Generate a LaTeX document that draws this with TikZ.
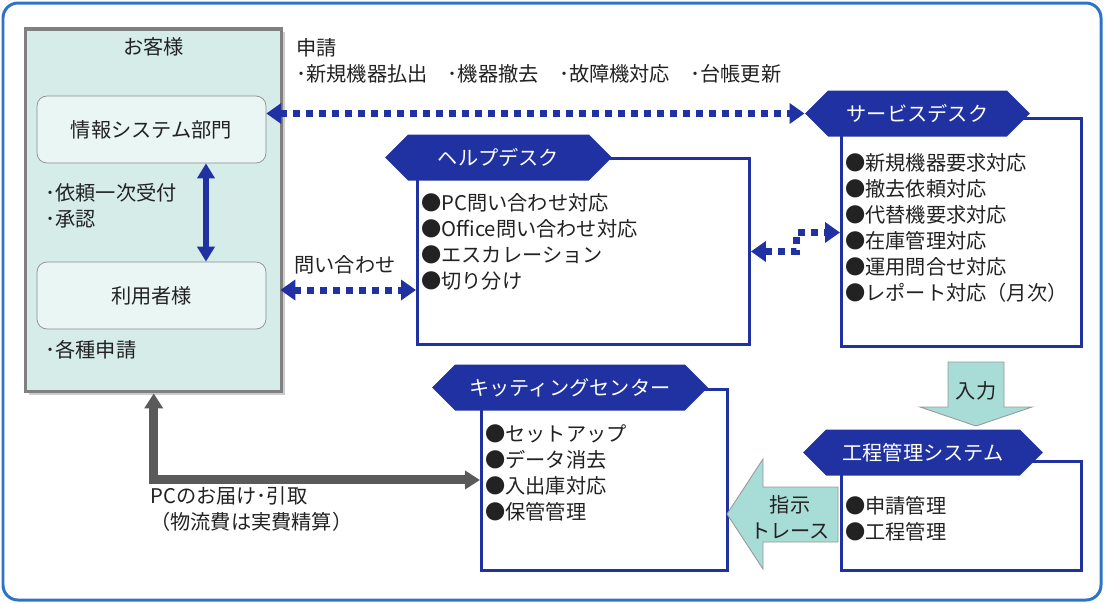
\documentclass[tikz,border=0pt]{standalone}
\usepackage{fontspec}
\setmainfont{Noto Sans CJK JP}
\usetikzlibrary{positioning,arrows.meta,shapes.symbols,shadows}

\definecolor{deskblue}{RGB}{32,50,162}
\definecolor{frameblue}{RGB}{46,116,198}
\definecolor{custfill}{RGB}{213,236,233}
\definecolor{subfill}{RGB}{234,246,244}
\definecolor{arrowfill}{RGB}{168,220,214}
\definecolor{shipgray}{RGB}{90,90,90}
\definecolor{inktext}{RGB}{34,34,34}

\begin{document}
\begin{tikzpicture}[x=0.02cm, y=-0.02cm,
    every node/.style={text=inktext, font=\fontsize{11.5}{14.8}\selectfont, inner sep=0pt},
    custbox/.style={draw=black!50, fill=custfill, line width=0.07cm, anchor=north west,
        general shadow={fill=black!20, shadow xshift=0.06cm, shadow yshift=-0.06cm}},
    subbox/.style={draw=black!45, fill=subfill, rounded corners=0.2cm,
        minimum width=4.58cm, minimum height=1.34cm},
    header/.style={signal, signal to=west and east, fill=deskblue, text=white, minimum height=0.92cm},
    deskbox/.style={draw=deskblue, line width=0.06cm, fill=white, anchor=north west},
    itemlist/.style={align=left, below right=0.72cm and 0.1cm of #1},
    dotarrow/.style={deskblue, line width=0.14cm, dash pattern=on 0.14cm off 0.12cm,
        {Triangle[length=0.3cm,width=0.4cm]}-{Triangle[length=0.3cm,width=0.4cm]}},
    updown/.style={deskblue, line width=0.11cm,
        {Triangle[length=0.3cm,width=0.34cm]}-{Triangle[length=0.3cm,width=0.34cm]}},
    shiparrow/.style={shipgray, line width=0.18cm,
        {Triangle[length=0.3cm,width=0.36cm]}-{Triangle[length=0.3cm,width=0.36cm]}},
    blockarrow/.style={draw=black!40, fill=arrowfill, line width=0.5pt}]

\useasboundingbox (0,0) rectangle (1106,603);
\draw[frameblue, line width=0.06cm, rounded corners=0.3cm] (3,3) rectangle (1101,600);

% customer side
\node[custbox, minimum width=5.12cm, minimum height=7.26cm] (cust) at (24,27) {};
\node[below=0.2cm of cust.north] (custname) {お客様};
\node[subbox] (info) at (151.5,129.5) {情報システム部門};
\node[subbox] (user) at (151.5,295.5) {利用者様};
\node[anchor=north west, align=left] (approve) at (45,183) {･依頼一次受付\\･承認};
\node[anchor=west] (apply) at (45,350) {･各種申請};
\draw[updown] ([xshift=1.09cm]info.south) -- ([xshift=1.09cm]user.north);

% desks
\node[deskbox, minimum width=4.8cm, minimum height=4.56cm] (sdbox) at (840,117) {};
\node[header, minimum width=4.5cm] (sdhead) at (917.5,113.5) {サービスデスク};
\node[itemlist=sdbox.north west] (sditems) {●新規機器要求対応\\●撤去依頼対応\\●代替機要求対応\\●在庫管理対応\\●運用問合せ対応\\●レポート対応（月次）};

\node[deskbox, minimum width=6.64cm, minimum height=3.72cm] (hdbox) at (416,157) {};
\node[header, minimum width=4.54cm] (hdhead) at (498.5,157.5) {ヘルプデスク};
\node[itemlist=hdbox.north west] (hditems) {●PC問い合わせ対応\\●Office問い合わせ対応\\●エスカレーション\\●切り分け};

\node[deskbox, minimum width=4.92cm, minimum height=3.62cm] (kitbox) at (480,388) {};
\node[header, minimum width=5.52cm] (kithead) at (570,387.5) {キッティングセンター};
\node[itemlist=kitbox.north west] (kititems) {●セットアップ\\●データ消去\\●入出庫対応\\●保管管理};

\node[deskbox, minimum width=4.8cm, minimum height=2.18cm] (pmbox) at (840,460) {};
\node[header, minimum width=4.8cm] (pmhead) at (923,452.5) {工程管理システム};
\node[itemlist=pmbox.north west] (pmitems) {●申請管理\\●工程管理};

% block arrows
\draw[blockarrow] (948,362) -- (1004,362) -- (1004,407) -- (1032,407) -- (976,426) -- (920,407) -- (948,407) -- cycle;
\node (input) at (976,391) {入力};
\draw[blockarrow] (838,487) -- (763,487) -- (763,459) -- (727,514) -- (763,569) -- (763,542) -- (838,542) -- cycle;
\node[align=center] (trace) at (790,517) {指示\\トレース};

% connectors
\draw[dotarrow] (sdhead.west -| info.east) -- (sdhead.west);
\node[anchor=north west, align=left] (reqlabel) at (296,38) {申請\\･新規機器払出　･機器撤去　･故障機対応　･台帳更新};
\coordinate (askpt) at ([shift={(0.28cm,0.11cm)}]user.east);
\draw[dotarrow] (askpt) -- (askpt -| hdbox.west);
\node (asklabel) at (345,265) {問い合わせ};
\draw[dotarrow] (hdbox.east) -- ++(46,0) |- (sdbox.west);
\draw[shiparrow] (cust.south) |- (kitbox.west);
\node[anchor=north west, align=left] (shiplabel) at (150,486) {PCのお届け･引取\\（物流費は実費精算）};
\end{tikzpicture}
\end{document}
